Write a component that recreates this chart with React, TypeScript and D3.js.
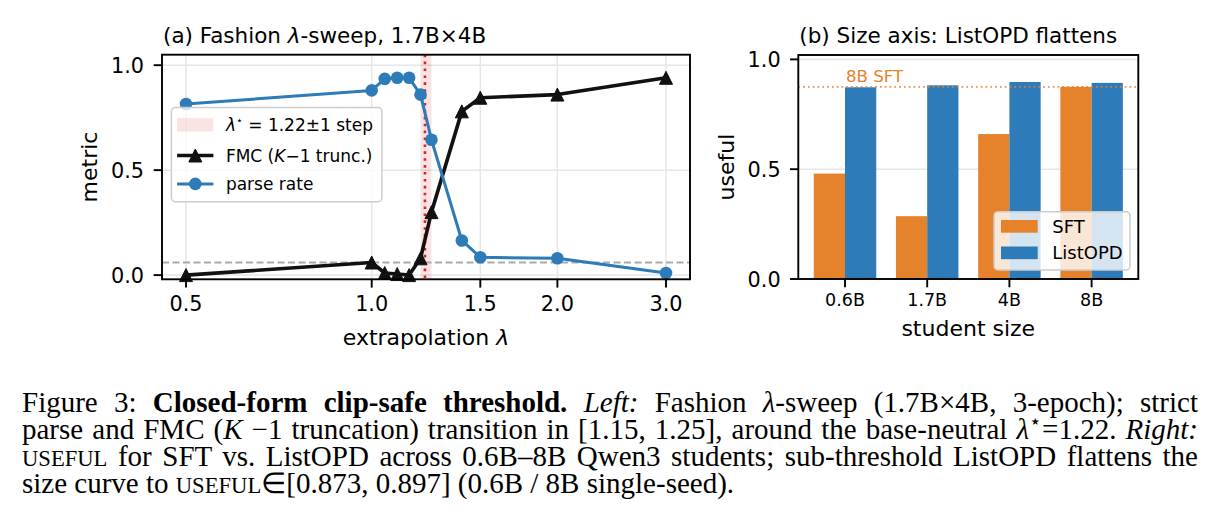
import React, { useEffect, useRef } from "react";
import * as d3 from "d3";

// ---------- Data ----------
const lambdas = [0.5, 1.0, 1.05, 1.1, 1.15, 1.2, 1.25, 1.4, 1.5, 2.0, 3.0];
const fmcValues = [0.0, 0.06, 0.01, 0.005, 0.0, 0.08, 0.3, 0.78, 0.845, 0.86, 0.94];
const parseRateValues = [0.815, 0.88, 0.935, 0.94, 0.94, 0.86, 0.645, 0.165, 0.085, 0.08, 0.01];
const xTicksA = [0.5, 1.0, 1.5, 2.0, 3.0];
const yTicksA = [0, 0.5, 1.0];
const lambdaStar = 1.22;
const starBand = [1.2, 1.25];
const refLevel = 0.06;

const sizes = ["0.6B", "1.7B", "4B", "8B"];
const sftUseful = [0.48, 0.286, 0.66, 0.875];
const listopdUseful = [0.873, 0.882, 0.897, 0.893];
const yTicksB = [0, 0.5, 1.0];

const FONT = "DejaVu Sans";
const SERIF = "Liberation Serif";
const BLUE = "#2d7bb8";
const ORANGE = "#e6822a";
const RED = "#d62728";
const GRID = "#e6e6e6";

type Seg = { t: string; s?: "b" | "i" | "sc" | "sup" };
const captionLines: Seg[][] = [
  [
    { t: "Figure 3: " },
    { t: "Closed-form clip-safe threshold.", s: "b" },
    { t: " " },
    { t: "Left:", s: "i" },
    { t: " Fashion " },
    { t: "λ", s: "i" },
    { t: "-sweep (1.7B×4B, 3-epoch); strict" },
  ],
  [
    { t: "parse and FMC (" },
    { t: "K", s: "i" },
    { t: " −1 truncation) transition in [1.15, 1.25], around the base-neutral " },
    { t: "λ", s: "i" },
    { t: "⋆", s: "sup" },
    { t: "=1.22. " },
    { t: "Right:", s: "i" },
  ],
  [
    { t: "USEFUL", s: "sc" },
    { t: " for SFT vs. ListOPD across 0.6B–8B Qwen3 students; sub-threshold ListOPD flattens the" },
  ],
  [
    { t: "size curve to " },
    { t: "USEFUL", s: "sc" },
    { t: "∈[0.873, 0.897] (0.6B / 8B single-seed)." },
  ],
];

// ---------- Layout ----------
const A = { left: 162, right: 690, top: 54.7, bottom: 279.3 };
const B = { left: 798.3, right: 1138.3, top: 55, bottom: 279 };
const CAP = { left: 22, right: 1198, base: 412, lh: 27, size: 29 };

export default function App() {
  const capRef = useRef<SVGGElement | null>(null);

  // x scale (log2) with 5% padding in log space
  const lmin = Math.log2(d3.min(lambdas)!);
  const lmax = Math.log2(d3.max(lambdas)!);
  const lpad = (lmax - lmin) * 0.05;
  const xA = d3
    .scaleLog()
    .base(2)
    .domain([Math.pow(2, lmin - lpad), Math.pow(2, lmax + lpad)])
    .range([A.left, A.right]);
  const yA = d3.scaleLinear().domain([-0.02, 1.05]).range([A.bottom, A.top]);

  const n = sizes.length;
  const barW = 0.38;
  const xpad = (n - 1 + 2 * barW) * 0.05;
  const xB = d3
    .scaleLinear()
    .domain([-barW - xpad, n - 1 + barW + xpad])
    .range([B.left, B.right]);
  const yB = d3.scaleLinear().domain([0, 1.02]).range([B.bottom, B.top]);

  const lineGen = d3
    .line<[number, number]>()
    .x((d) => xA(d[0]))
    .y((d) => yA(d[1]));
  const fmcPts: [number, number][] = lambdas.map((l, i) => [l, fmcValues[i]]);
  const parsePts: [number, number][] = lambdas.map((l, i) => [l, parseRateValues[i]]);

  const tri = (cx: number, cy: number, h: number) =>
    `M${cx},${cy - h}L${cx + h},${cy + h}L${cx - h},${cy + h}Z`;

  useEffect(() => {
    if (!capRef.current) return;
    const g = d3.select(capRef.current);
    g.selectAll<SVGTextElement, unknown>("text.just").each(function () {
      const el = this as SVGTextElement;
      el.setAttribute("word-spacing", "0");
      const w = el.getComputedTextLength();
      const txt = el.textContent || "";
      const spaces = (txt.trim().match(/ /g) || []).length;
      const target = CAP.right - CAP.left;
      if (spaces > 0) el.setAttribute("word-spacing", String((target - w) / spaces));
    });
  }, []);

  const segStyle = (s?: string): any => {
    if (s === "b") return { fontWeight: "bold" };
    if (s === "i") return { fontStyle: "italic" };
    if (s === "sc") return { fontSize: CAP.size * 0.78 };
    return {};
  };

  return (
    <svg
      width={1223}
      height={532}
      style={{ position: "absolute", left: 0, top: 0, background: "#fff" }}
      fontFamily={FONT}
    >
      <rect x={0} y={0} width={1223} height={532} fill="#fff" />

      {/* ---------------- Panel (a) ---------------- */}
      <g>
        {xTicksA.map((t) => (
          <line key={"gx" + t} x1={xA(t)} x2={xA(t)} y1={A.top} y2={A.bottom} stroke={GRID} strokeWidth={1.5} />
        ))}
        {yTicksA.map((t) => (
          <line key={"gy" + t} x1={A.left} x2={A.right} y1={yA(t)} y2={yA(t)} stroke={GRID} strokeWidth={1.5} />
        ))}
        {/* lambda* band */}
        <rect
          x={xA(starBand[0])}
          y={A.top}
          width={xA(starBand[1]) - xA(starBand[0])}
          height={A.bottom - A.top}
          fill={RED}
          fillOpacity={0.13}
        />
        {/* reference dashed line */}
        <line
          x1={A.left}
          x2={A.right}
          y1={yA(refLevel)}
          y2={yA(refLevel)}
          stroke="#aaaaaa"
          strokeWidth={1.8}
          strokeDasharray="7,3.5"
        />
        {/* lambda* dotted line */}
        <line
          x1={xA(lambdaStar)}
          x2={xA(lambdaStar)}
          y1={A.top}
          y2={A.bottom}
          stroke={RED}
          strokeWidth={2.6}
          strokeDasharray="2.6,4.3"
        />
        {/* FMC */}
        <path d={lineGen(fmcPts) || ""} fill="none" stroke="#111" strokeWidth={3.6} strokeLinejoin="round" />
        {fmcPts.map((p, i) => (
          <path key={"t" + i} d={tri(xA(p[0]), yA(p[1]), 6.5)} fill="#111" stroke="#111" strokeWidth={1} />
        ))}
        {/* parse rate */}
        <path d={lineGen(parsePts) || ""} fill="none" stroke={BLUE} strokeWidth={3} strokeLinejoin="round" />
        {parsePts.map((p, i) => (
          <circle key={"c" + i} cx={xA(p[0])} cy={yA(p[1])} r={6.3} fill={BLUE} />
        ))}

        {/* frame */}
        <rect x={A.left} y={A.top} width={A.right - A.left} height={A.bottom - A.top} fill="none" stroke="#000" strokeWidth={1.9} />

        {/* ticks */}
        {xTicksA.map((t) => (
          <g key={"xt" + t}>
            <line x1={xA(t)} x2={xA(t)} y1={A.bottom} y2={A.bottom + 8.3} stroke="#000" strokeWidth={1.9} />
            <text x={xA(t)} y={310.7} fontSize={20.8} textAnchor="middle" fill="#000">
              {t.toFixed(1)}
            </text>
          </g>
        ))}
        {yTicksA.map((t) => (
          <g key={"yt" + t}>
            <line x1={A.left - 8.3} x2={A.left} y1={yA(t)} y2={yA(t)} stroke="#000" strokeWidth={1.9} />
            <text x={144} y={yA(t) + 7.5} fontSize={20.8} textAnchor="end" fill="#000">
              {t.toFixed(1)}
            </text>
          </g>
        ))}

        {/* labels */}
        <text x={(A.left + A.right) / 2} y={345} fontSize={22} textAnchor="middle">
          extrapolation <tspan fontStyle="italic">λ</tspan>
        </text>
        <text transform={`translate(97,${(A.top + A.bottom) / 2}) rotate(-90)`} fontSize={22} textAnchor="middle">
          metric
        </text>
        <text x={A.left + 1} y={42.5} fontSize={21.5}>
          (a) Fashion <tspan fontStyle="italic">λ</tspan>-sweep, 1.7B×4B
        </text>

        {/* legend */}
        <rect x={171.4} y={107.4} width={210.5} height={94.3} rx={4} fill="#fff" fillOpacity={0.8} stroke="#cccccc" strokeWidth={1.5} />
        <rect x={177.1} y={118.1} width={36.3} height={13.5} fill={RED} fillOpacity={0.13} />
        <text x={225.9} y={131} fontSize={17}>
          <tspan fontStyle="italic">λ</tspan>
          <tspan fontSize={11} dy={-7}>⋆</tspan>
          <tspan dy={7}> = 1.22±1 step</tspan>
        </text>
        <line x1={177.1} x2={213.4} y1={155.5} y2={155.5} stroke="#111" strokeWidth={3.6} />
        <path d={tri(195.3, 155.5, 6.5)} fill="#111" stroke="#111" strokeWidth={1} />
        <text x={225.9} y={161.7} fontSize={17}>
          FMC (<tspan fontStyle="italic">K</tspan>−1 trunc.)
        </text>
        <line x1={177.1} x2={213.4} y1={183.9} y2={183.9} stroke={BLUE} strokeWidth={3} />
        <circle cx={195.3} cy={183.9} r={6.3} fill={BLUE} />
        <text x={225.9} y={190} fontSize={17}>
          parse rate
        </text>
      </g>

      {/* ---------------- Panel (b) ---------------- */}
      <g>
        {yTicksB.map((t) => (
          <line key={"gby" + t} x1={B.left} x2={B.right} y1={yB(t)} y2={yB(t)} stroke={GRID} strokeWidth={1.5} />
        ))}
        {sizes.map((s, i) => (
          <g key={"bar" + s}>
            <rect
              x={xB(i - barW)}
              y={yB(sftUseful[i])}
              width={xB(barW) - xB(0)}
              height={yB(0) - yB(sftUseful[i])}
              fill={ORANGE}
            />
            <rect
              x={xB(i)}
              y={yB(listopdUseful[i])}
              width={xB(barW) - xB(0)}
              height={yB(0) - yB(listopdUseful[i])}
              fill={BLUE}
            />
          </g>
        ))}
        {/* 8B SFT reference */}
        <line
          x1={B.left}
          x2={B.right}
          y1={yB(sftUseful[3])}
          y2={yB(sftUseful[3])}
          stroke={ORANGE}
          strokeOpacity={0.85}
          strokeWidth={1.8}
          strokeDasharray="1.8,3"
        />
        <text x={xB(0) + 1} y={yB(sftUseful[3]) - 4.5} fontSize={16.6} fill={ORANGE}>
          8B SFT
        </text>

        <rect x={B.left} y={B.top} width={B.right - B.left} height={B.bottom - B.top} fill="none" stroke="#000" strokeWidth={1.9} />

        {sizes.map((s, i) => (
          <g key={"bxt" + s}>
            <line x1={xB(i)} x2={xB(i)} y1={B.bottom} y2={B.bottom + 8.3} stroke="#000" strokeWidth={1.9} />
            <text x={xB(i)} y={305.7} fontSize={17.5} textAnchor="middle">
              {s}
            </text>
          </g>
        ))}
        {yTicksB.map((t) => (
          <g key={"byt" + t}>
            <line x1={B.left - 8.3} x2={B.left} y1={yB(t)} y2={yB(t)} stroke="#000" strokeWidth={1.9} />
            <text x={780.7} y={yB(t) + 7.5} fontSize={20.8} textAnchor="end">
              {t.toFixed(1)}
            </text>
          </g>
        ))}
        <text x={(B.left + B.right) / 2} y={336} fontSize={22} textAnchor="middle">
          student size
        </text>
        <text transform={`translate(733.5,${(B.top + B.bottom) / 2}) rotate(-90)`} fontSize={22} textAnchor="middle">
          useful
        </text>
        <text x={B.left + 1} y={42.5} fontSize={21.5}>
          (b) Size axis: ListOPD flattens
        </text>

        {/* legend */}
        <rect x={994} y={211.7} width={136} height={58.3} rx={4} fill="#fff" fillOpacity={0.8} stroke="#cccccc" strokeWidth={1.5} />
        <rect x={1001} y={220} width={36.7} height={12.7} fill={ORANGE} />
        <text x={1052.3} y={232.8} fontSize={18}>
          SFT
        </text>
        <rect x={1001} y={246.5} width={36.7} height={12.7} fill={BLUE} />
        <text x={1052.3} y={259.3} fontSize={18}>
          ListOPD
        </text>
      </g>

      {/* ---------------- Caption ---------------- */}
      <g ref={capRef} fontFamily={SERIF} fontSize={CAP.size} fill="#000">
        {captionLines.map((line, li) => (
          <text
            key={"cap" + li}
            className={li < captionLines.length - 1 ? "just" : "last"}
            x={CAP.left}
            y={CAP.base + li * CAP.lh}
            style={{ whiteSpace: "pre" }}
          >
            {line.map((seg, si) =>
              seg.s === "sup" ? (
                <tspan key={si} fontSize={CAP.size * 0.7} dy={-11}>
                  {seg.t}
                </tspan>
              ) : (
                <tspan key={si} {...segStyle(seg.s)} dy={si > 0 && line[si - 1].s === "sup" ? 11 : 0}>
                  {seg.t}
                </tspan>
              )
            )}
          </text>
        ))}
      </g>
    </svg>
  );
}
